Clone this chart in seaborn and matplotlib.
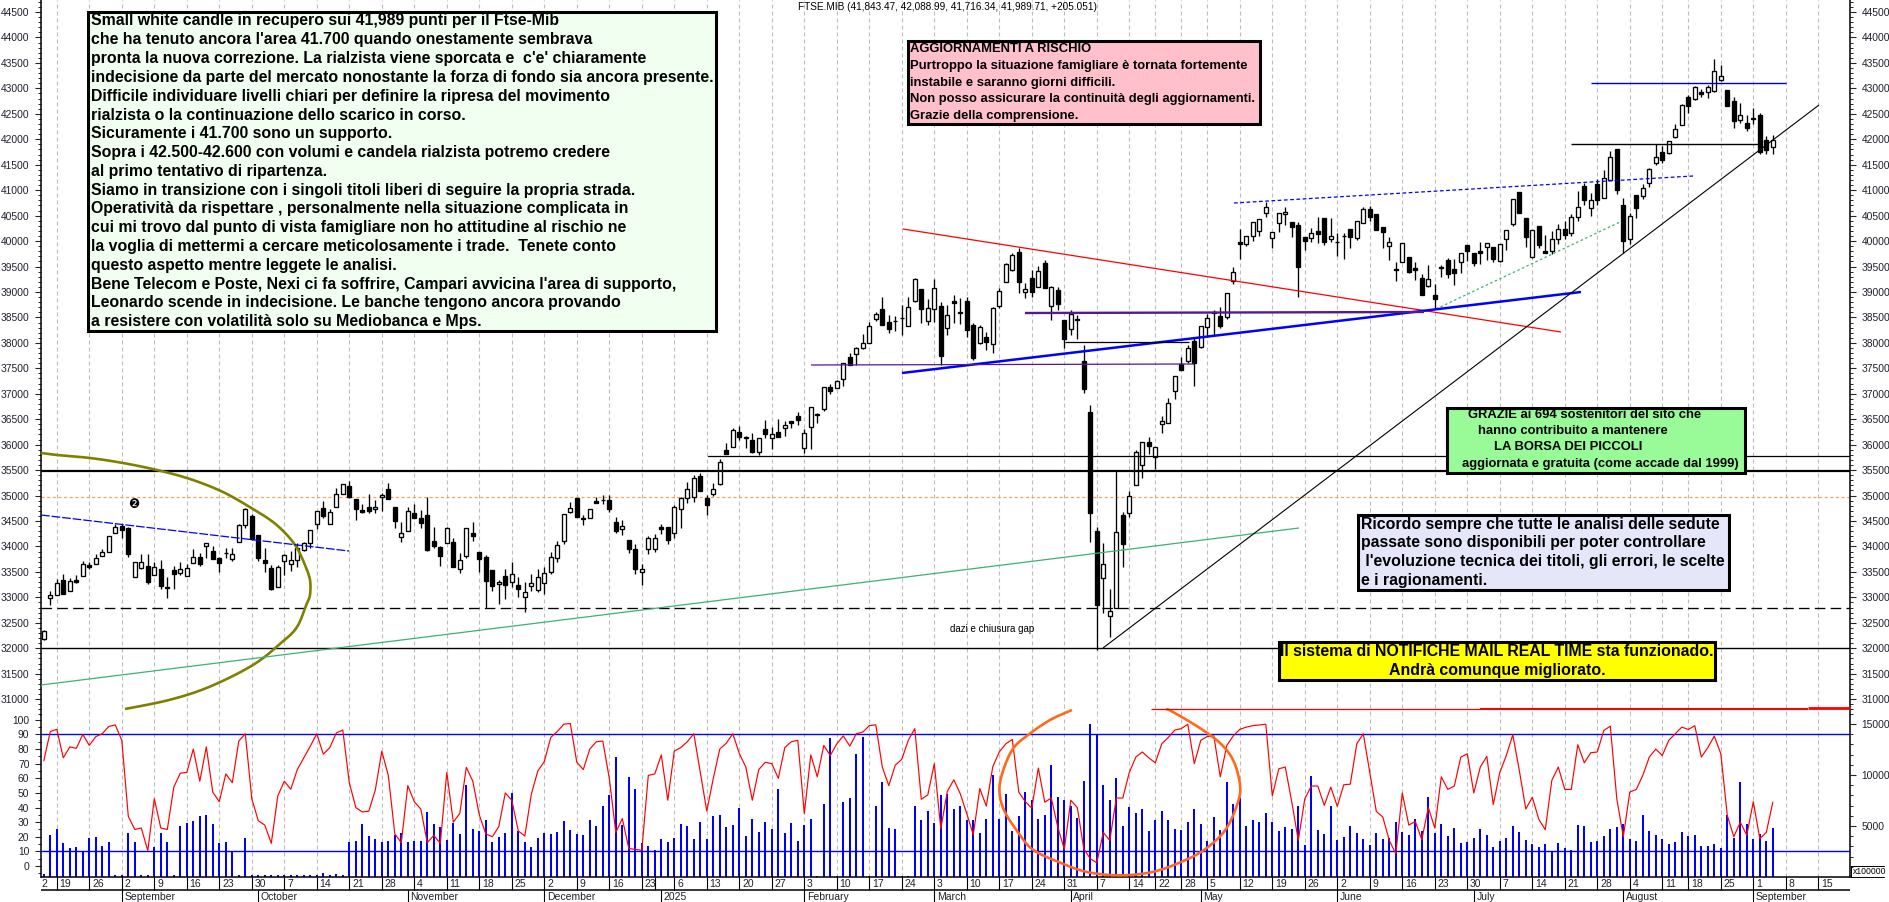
import numpy as np
import seaborn as sns
import matplotlib.pyplot as plt
from matplotlib.patches import Rectangle
from matplotlib.ticker import MultipleLocator

W, H = 1890, 902

opens = [
    32180,32990,33050,33340,33120,33340,33425,33630,33650,33820,
    33900,34265,34400,34365,33395,33585,33610,33430,33550,33195,
    33530,33485,33425,33680,33785,34000,33905,33770,33880,33755,
    34080,34415,34600,34220,33730,33570,33195,33720,33650,33735,
    33940,34075,34435,34750,34435,34785,35040,35185,34930,34710,
    34770,34730,34980,35125,34770,34195,34310,34650,34555,34615,
    34100,33990,34075,34080,33565,33820,34260,33885,33785,33540,
    33255,33420,33300,33245,33000,33220,33150,33280,33500,33780,
    34100,34670,34945,34560,34565,34890,34910,34910,34475,34340,
    34130,33950,33500,33950,33960,34375,34375,34270,34729,34945,
    34978,35383,34958,35030,35226,35894,35960,36241,36130,36091,
    35861,36300,36124,36255,36320,36458,36563,35940,36353,36589,
    36700,37126,37119,37296,37728,37774,37892,38003,38475,38658,
    38409,38435,38480,38337,38828,39058,38435,38658,38724,38285,
    38829,38580,38829,38351,38003,38121,37977,38724,39189,39431,
    39791,38992,39267,39104,39562,38724,39038,38449,38265,38455,
    37636,36634,34296,33373,32633,32784,34611,34650,35200,35593,
    36045,35750,36399,36431,37060,37584,37650,38029,37925,38318,
    38613,38528,38501,39222,39975,39942,40106,40204,40557,40053,
    40361,40525,40368,40315,40073,40053,40204,40453,40034,39988,
    40100,40237,40053,40348,40623,40531,40269,39910,39444,39582,
    39680,39464,39267,39124,38940,39464,39628,39444,39595,39922,
    39759,39805,39877,39877,39615,40034,40328,40957,40446,39693,
    40296,39811,39800,40050,40230,40150,40480,41082,40650,41121,
    40840,41200,41802,40700,40050,40905,40892,41134,41527,41756,
    41736,42038,42287,42837,42797,42922,42922,42955,43164,42961,
    42745,42378,42313,42392,42477,41979,41843,
]
highs = [
    32350,33130,33355,33460,33375,33440,33715,33700,33850,33945,
    34200,34440,34445,34390,33700,33850,33850,33700,33735,33405,
    33615,33695,33655,33950,33865,34060,34010,33800,33965,33965,
    34435,34760,34635,34220,33970,33630,33635,33850,33910,34060,
    34095,34320,34690,34895,34730,35145,35225,35290,34930,34830,
    35025,34915,35045,35245,34770,34475,34780,34835,34720,34970,
    34385,34010,34390,34165,33880,34370,34475,33885,33835,33540,
    33340,33560,33700,33400,33300,33450,33550,33600,33900,34100,
    34640,34880,34945,34620,34745,34980,35010,35010,34585,34520,
    34130,34050,33650,34200,34240,34450,34375,34815,34980,35270,
    35400,35436,35010,35240,35710,36025,36320,36366,36170,36222,
    36124,36484,36340,36497,36471,36471,36648,36300,36746,36615,
    37126,37191,37270,37610,37807,37925,38173,38416,38612,38894,
    38547,38527,38743,38907,39267,39058,38861,39254,38809,38743,
    38940,38874,38894,38383,38351,38220,38711,39071,39562,39772,
    39857,39182,39431,39510,39628,39117,39104,38449,38645,38547,
    37957,36778,34388,34060,33157,35482,34676,35095,35894,36058,
    36143,35960,36562,36909,37355,37715,37957,38121,38340,38567,
    38646,38698,38986,39483,40230,40100,40368,40426,40774,40184,
    40545,40662,40368,40381,40073,40250,40479,40453,40446,40165,
    40152,40237,40400,40675,40689,40531,40269,40086,39595,39955,
    39680,39595,39353,39530,39156,39530,39660,39647,39759,39922,
    39759,39988,39968,39877,39942,40217,40833,40970,40446,40217,
    40296,40119,40200,40330,40400,40540,40990,41134,40950,41220,
    41400,41760,41802,40850,40560,40905,41115,41430,41900,41860,
    41965,42300,42700,42860,43050,42990,43060,43570,43460,42961,
    42825,42710,42480,42610,42510,42060,42088,
]
lows = [
    32170,32855,33050,33070,33120,33290,33425,33560,33650,33820,
    33900,34265,34175,33800,33395,33560,33255,33430,33170,32985,
    33170,33445,33425,33680,33625,33780,33755,33505,33780,33720,
    34080,34370,34130,33715,33505,33145,33195,33440,33520,33600,
    33920,33965,34345,34555,34435,34785,35040,34950,34520,34655,
    34655,34655,34700,34930,34370,34095,34310,34550,34360,33905,
    33965,33625,34060,33605,33485,33765,34115,33505,32790,33130,
    32870,32970,33200,33010,32720,33130,33100,33067,33450,33700,
    34050,34650,34570,34420,34565,34850,34840,34680,34260,34225,
    33880,33450,33250,33850,33900,34250,34050,34160,34360,34860,
    34880,35095,34620,34990,35207,35816,35947,36091,35940,35842,
    35796,36124,35914,36143,36170,36320,36386,35842,35914,36431,
    36667,36995,37106,37152,37558,37558,37872,38003,38422,38350,
    38200,38239,38154,38337,38809,38396,38350,38416,37565,38154,
    38383,38370,38108,37663,37977,37859,37794,38678,39189,39418,
    38973,38874,38907,39104,39071,38449,38645,37892,38154,38069,
    37021,34093,31965,32685,32214,32784,33602,34572,35200,35351,
    35816,35521,36235,36431,36896,37466,37597,37158,37890,38121,
    38154,38298,38462,39156,39647,39903,40007,40099,40479,39857,
    40184,40315,40086,38894,39824,39988,39968,39922,39988,39706,
    39647,39870,40020,40348,40400,40217,39857,39628,39222,39582,
    39379,39235,38940,39104,38678,39300,39267,39137,39379,39615,
    39510,39550,39628,39595,39595,39824,40302,40544,39877,39660,
    39857,39772,39750,39950,40050,40100,40400,40700,40500,40700,
    40840,41200,40925,39765,39950,40450,40830,41060,41500,41527,
    41710,42020,42280,42520,42780,42830,42810,42930,43150,42660,
    42225,42310,42170,42300,41710,41710,41716,
]
closes = [
    32340,33040,33275,33070,33315,33300,33650,33600,33780,33885,
    34200,34380,34330,33850,33690,33690,33310,33590,33230,33180,
    33465,33565,33570,33785,33655,34060,33755,33680,33865,33850,
    34415,34730,34140,33780,33680,33165,33600,33825,33730,33965,
    34075,34320,34690,34590,34675,35040,35225,34970,34745,34675,
    34705,34785,35020,34930,34510,34270,34690,34550,34470,33940,
    34000,33820,34360,33605,33730,34360,34205,33760,33330,33230,
    33300,33250,33450,33160,33100,33280,33400,33480,33800,34020,
    34630,34750,34570,34530,34735,34860,34920,34735,34300,34410,
    33950,33560,33560,34170,34170,34340,34125,34780,34945,35120,
    35338,35095,34814,35135,35652,35816,36287,36156,36143,35861,
    36124,36209,36202,36156,36386,36432,36484,36222,36733,36602,
    37126,37053,37256,37597,37558,37905,37990,38337,38560,38350,
    38265,38425,38495,38710,39254,38658,38678,39070,37748,38540,
    38790,38613,38252,37709,38318,38023,38678,39025,39542,39726,
    39202,39051,38992,39412,39084,39104,38757,38069,38567,38462,
    37086,34663,32849,33648,32738,34277,34041,34997,35855,36058,
    35979,35960,36471,36824,37355,37466,37892,37610,38338,38482,
    38580,38331,38986,39385,39935,40100,40368,40426,40675,40184,
    40545,40577,40269,39497,40007,40152,40139,39988,40106,39975,
    40106,40086,40400,40623,40479,40217,40184,39975,39425,39955,
    39398,39431,38940,39248,38855,39497,39346,39379,39759,39811,
    39575,39772,39968,39641,39942,40217,40833,40544,40086,40217,
    39922,39772,40050,40230,40120,40480,40670,40800,40800,40807,
    41245,41658,41003,40000,40500,40650,41036,41416,41645,41592,
    41959,42195,42667,42653,43033,42896,43033,43335,43250,42660,
    42365,42470,42228,42425,41750,41789,41989,
]
oscillator = [
    72,92,93.5,74,81.5,80.5,90,82.5,88.5,90.5,
    95.5,96.5,86,34,25,26,10.5,46,26,25,
    54,63.5,64,80,58,81.5,50.5,44,63,57,
    85.5,90.5,46,31,28,15.5,48,58,52.5,66,
    74,82,90.5,76.5,81,91,93,57,40,37,
    37.5,52,78.5,62,22,16,55,44,39,16,
    21,15.5,64,30,36,67.5,58,35,22,20,
    27,50,45,24,20.5,49,65,71.5,88,92,
    97,97.5,71,66,80,85,85.5,60,23,32.5,
    12,11.4,10.7,62,63,76,45,78.6,81,85,
    90.5,64,37.6,60,80,84,90.5,77,67.7,45,
    66,71,70,60,81,85,86,35.8,76,61,
    82.5,75.6,83.6,89,82,90.5,91.6,96,96.6,67.7,
    55,69,73,86,94,45.6,48.7,70,25.5,51,
    59,49.4,35.8,21.4,53,41,68,78,83.6,86.6,
    50.6,44,39.6,67,43.7,46.5,26.6,11.4,45,40,
    11.8,5,2.2,23,17.5,46.5,46.5,64,74.5,78,
    74,70.6,83.6,88,93,94,97,70,86,88.6,
    89,61,82.5,89,93.5,95,96,96.5,97,48,
    66.5,67.7,43.7,17.5,46,54.7,54.7,41.5,54,40.8,
    55.6,56,83.6,90.5,64,37.4,33.5,17.5,8.4,50,
    28,30.5,18,40,26,61,52.4,54.7,74.5,76.8,
    50,67.7,75,42,64,75.6,89.8,65.4,39,47,
    32,24.8,58.5,67.7,52.4,52.4,83,70.6,77.5,78,
    92.7,95.7,46,20,50.6,52.4,62,74.5,80,75.6,
    86,90.5,95,93.4,96,74.5,81,88.9,76.8,34.6,
    20,30,21,44,18.7,23,43.7,
]
volumes = [
    260,4085,4670,3330,2840,2940,2515,3820,3920,3040,
    3400,200,160,4280,3430,160,200,2910,4310,3430,
    160,4970,5290,5490,5980,6080,5160,3300,3430,2515,
    200,3820,160,200,200,200,200,160,160,200,
    200,160,200,390,160,300,200,3430,3530,5200,
    4020,3725,3400,3530,4120,4310,3400,3530,3560,6370,
    5200,4870,3630,5330,4180,9020,4700,4540,5560,3430,
    3920,4310,8270,4480,3430,2940,3820,4310,4250,4410,
    5460,4610,4220,4120,5560,5030,6960,8040,11760,5070,
    9800,8600,3370,3040,2650,3760,3400,3820,5200,5000,
    3690,5360,3760,5980,6050,4900,5100,6730,4020,5690,
    4380,5390,4670,8630,4280,5290,3530,5130,5690,100,
    7160,13630,100,7350,7710,12060,13690,100,6930,9310,
    4800,4700,100,100,6960,5560,6440,5290,8000,8140,
    6630,7000,5560,5590,4280,5720,9970,5690,8140,4480,
    5950,8330,7550,5650,6050,10950,7810,7550,6960,5780,
    9410,14970,13990,8990,7550,9700,4970,6860,6240,6670,
    4480,5590,6470,5590,4670,4580,5390,6630,5200,3530,
    5850,4610,9280,7160,7780,5030,5590,5390,6270,5360,
    4510,4870,4670,6960,3170,9900,4580,4220,6930,3630,
    3920,5000,4310,3725,3140,4310,3690,3790,5360,4440,
    4150,5690,4480,7810,4350,5160,4020,4800,3330,3430,
    3790,4700,4080,2940,3500,3820,5000,4440,3590,3200,
    2940,3200,2515,3330,2840,2650,5130,5000,3460,3560,
    4020,4700,4900,5160,3760,3530,6080,4480,4120,3690,
    3200,3430,4410,4020,4120,3040,3040,3240,2840,6080,
    3860,9310,5200,3690,4220,3560,4800,
]

week_pos = [2,7,12,17,22,27,32,37,42,47,52,57,62,67,72,77,82,87,92,97,102,107,112,117,
            122,127,132,137,142,147,152,157,162,167,171,175,179,184,189,194,199,204,209,
            214,219,224,229,234,239,244,249,253,258,263,268,273]
week_labels = ["19","26","2","9","16","23","30","7","14","21","28","4","11","18","25","2","9","16",
               "23","6","13","20","27","3","10","17","24","3","10","17","24","31","7","14","22",
               "28","5","12","19","26","2","9","16","23","30","7","14","21","28","4","11","18",
               "25","1","8","15"]
month_pos = [12,33,56,77,95,117,137,158,178,199,220,243,263]
month_labels = ["September","October","November","December","2025","February","March","April",
                "May","June","July","August","September"]

note_lines = [
    "Small white candle in recupero sui 41,989 punti per il Ftse-Mib",
    "che ha tenuto ancora l'area 41.700 quando onestamente sembrava",
    "pronta la nuova correzione. La rialzista viene sporcata e  c'e' chiaramente",
    "indecisione da parte del mercato nonostante la forza di fondo sia ancora presente.",
    "Difficile individuare livelli chiari per definire la ripresa del movimento",
    "rialzista o la continuazione dello scarico in corso.",
    "Sicuramente i 41.700 sono un supporto.",
    "Sopra i 42.500-42.600 con volumi e candela rialzista potremo credere",
    "al primo tentativo di ripartenza.",
    "Siamo in transizione con i singoli titoli liberi di seguire la propria strada.",
    "Operatività da rispettare , personalmente nella situazione complicata in",
    "cui mi trovo dal punto di vista famigliare non ho attitudine al rischio ne",
    "la voglia di mettermi a cercare meticolosamente i trade.  Tenete conto",
    "questo aspetto mentre leggete le analisi.",
    "Bene Telecom e Poste, Nexi ci fa soffrire, Campari avvicina l'area di supporto,",
    "Leonardo scende in indecisione. Le banche tengono ancora provando",
    "a resistere con volatilità solo su Mediobanca e Mps.",
]
risk_lines = [
    "AGGIORNAMENTI A RISCHIO",
    "Purtroppo la situazione famigliare è tornata fortemente",
    "instabile e saranno giorni difficili.",
    "Non posso assicurare la continuità degli aggiornamenti.",
    "Grazie della comprensione.",
]
thanks_lines = [
    (1468, "GRAZIE ai 694 sostenitori del sito che"),
    (1478, "hanno contribuito a mantenere"),
    (1494, "LA BORSA DEI PICCOLI"),
    (1462, "aggiornata e gratuita (come accade dal 1999)"),
]
reminder_lines = [
    "Ricordo sempre che tutte le analisi delle sedute",
    "passate sono disponibili per poter controllare",
    " l'evoluzione tecnica dei titoli, gli errori, le scelte",
    "e i ragionamenti.",
]

sns.set_theme(style="white")
plt.rcParams["font.family"] = ["Liberation Sans", "DejaVu Sans"]

LEFT, RIGHT = 41, 1850
STEP = 6.5
xlim = ((LEFT - 43.8) / STEP, (RIGHT - 43.8) / STEP)
tick_color = "#20202c"
tick_size = 7.4
grid_color = "#bdbdbd"


def panel(top, bottom):
    return [LEFT / W, 1 - bottom / H, (RIGHT - LEFT) / W, (bottom - top) / H]


fig = plt.figure(figsize=(W / 100, H / 100), dpi=100, facecolor="white")

# price panel
ax = fig.add_axes(panel(0, 715))
days = np.arange(len(closes))
opens_a, closes_a = np.array(opens), np.array(closes)
rising = closes_a >= opens_a

for w in week_pos:
    ax.axvline(w, color=grid_color, lw=0.8, ls=(0, (3.6, 2.7)), zorder=1)

ax.vlines(days, lows, highs, color="black", lw=0.95, zorder=3)
body_h = np.abs(closes_a - opens_a)
body_bottom = np.minimum(opens_a, closes_a)
ax.bar(days[rising], body_h[rising], bottom=body_bottom[rising], width=0.6,
       facecolor="white", edgecolor="black", linewidth=0.95, zorder=4)
ax.bar(days[~rising], body_h[~rising], bottom=body_bottom[~rising], width=0.6,
       facecolor="black", edgecolor="black", linewidth=0.95, zorder=4)

ax.axhline(35482, color="black", lw=1.6, zorder=5)
ax.axhline(35783, color="black", lw=0.9, xmin=(102.2 - xlim[0]) / (xlim[1] - xlim[0]), zorder=5)
ax.axhline(34968, color="#f4a460", lw=0.9, ls=(0, (2.5, 2)), zorder=2)
ax.axhline(32783, color="black", lw=0.95, ls=(0, (8, 4)), zorder=2)
ax.axhline(32000, color="black", lw=1.0, zorder=5)

ax.set_xlim(xlim)
ax.set_ylim(30689, 44736)
ax.yaxis.set_major_locator(MultipleLocator(500))
ax.yaxis.set_minor_locator(MultipleLocator(100))
ax.set_yticks([t for t in range(31000, 44501, 500)])
ax.tick_params(axis="y", which="major", left=True, right=True, labelleft=True, labelright=True,
               length=4.3, width=0.8, labelsize=tick_size, labelcolor=tick_color, pad=4)
ax.tick_params(axis="y", which="minor", left=True, right=True, length=2.2, width=0.7)
ax.set_xticks([])
for side in ["top", "bottom"]:
    ax.spines[side].set_visible(False)
for side in ["left", "right"]:
    ax.spines[side].set_color("black")
    ax.spines[side].set_linewidth(1.1)
ax.grid(False)

# volume, right hand scale
ax_vol = fig.add_axes(panel(715, 877))
for w in week_pos:
    ax_vol.axvline(w, color=grid_color, lw=0.8, ls=(0, (3.6, 2.7)), zorder=0.5)
sns.barplot(x=days, y=volumes, native_scale=True, color="#0000ff", saturation=1,
            width=0.34, linewidth=0, zorder=2, ax=ax_vol)
ax_vol.set_xlim(xlim)
ax_vol.set_ylim(0, 15880)
ax_vol.set_xlabel("")
ax_vol.set_ylabel("")
ax_vol.set_xticks([])
ax_vol.yaxis.tick_right()
ax_vol.set_yticks([5000, 10000, 15000])
ax_vol.yaxis.set_minor_locator(MultipleLocator(1000))
ax_vol.tick_params(axis="y", which="major", right=True, left=False, length=4.3, width=0.8,
                   labelsize=tick_size, labelcolor=tick_color, pad=4)
ax_vol.tick_params(axis="y", which="minor", right=True, left=False, length=2.2, width=0.7)
ax_vol.grid(False)
for side in ["top", "bottom", "left"]:
    ax_vol.spines[side].set_visible(False)
ax_vol.spines["right"].set_color("black")
ax_vol.spines["right"].set_linewidth(1.1)

# oscillator, left hand scale
ax_osc = fig.add_axes(panel(715, 877))
ax_osc.patch.set_alpha(0)
ax_osc.axhline(90, color="#0000ff", lw=1.0, zorder=3)
ax_osc.axhline(10, color="#0000ff", lw=1.0, zorder=3)
sns.lineplot(x=days, y=oscillator, color="#ff0000", lw=0.85, errorbar=None, estimator=None,
             ax=ax_osc, zorder=4)
ax_osc.set_xlim(xlim)
ax_osc.set_ylim(-7.5, 103.3)
ax_osc.set_xlabel("")
ax_osc.set_ylabel("")
ax_osc.set_xticks([])
ax_osc.set_yticks(range(0, 101, 10))
ax_osc.yaxis.set_minor_locator(MultipleLocator(5))
ax_osc.tick_params(axis="y", which="major", left=True, right=False, length=4.3, width=0.8,
                   labelsize=tick_size, labelcolor=tick_color, pad=4)
ax_osc.tick_params(axis="y", which="minor", left=True, right=False, length=2.2, width=0.7)
ax_osc.grid(False)
for side in ["top", "bottom", "right"]:
    ax_osc.spines[side].set_visible(False)
ax_osc.spines["left"].set_color("black")
ax_osc.spines["left"].set_linewidth(1.1)

# date rows under the panels
ax_date = fig.add_axes(panel(877, H))
ax_date.set_xlim(xlim)
ax_date.set_ylim(25, 0)
ax_date.axis("off")
ax_date.axhline(0, color="black", lw=1.1, clip_on=False)
ax_date.axhline(13, color="black", lw=1.1)
ax_date.vlines(week_pos + [94], 0, 13, color="black", lw=0.8)
ax_date.vlines(month_pos, 13, 25, color="black", lw=0.8)
for pos, lab in zip(week_pos, week_labels):
    ax_date.text(pos + 0.42, 6.8, lab, fontsize=7.5, color=tick_color, va="center", ha="left")
ax_date.text(xlim[0] + 0.1, 6.8, "2", fontsize=7.5, color=tick_color, va="center", ha="left")
for pos, lab in zip(month_pos, month_labels):
    ax_date.text(pos + 0.4, 19.6, lab, fontsize=7.5, color=tick_color, va="center", ha="left")

# hand drawn lines and notes go on an overlay in picture coordinates
ov = fig.add_axes([0, 0, 1, 1])
ov.set_xlim(0, W)
ov.set_ylim(H, 0)
ov.axis("off")


def draw(points, color, lw, ls="-", z=2):
    xs, ys = zip(*points)
    ov.plot(xs, ys, color=color, lw=lw, ls=ls, zorder=z, solid_capstyle="butt", dash_capstyle="butt")


# the two freehand arcs, rounded off with a catmull-rom pass
def smooth(points, n=12):
    p = np.array([points[0]] + points + [points[-1]], dtype=float)
    out = []
    for k in range(1, len(p) - 2):
        for t in np.linspace(0, 1, n, endpoint=False):
            out.append(0.5 * (2 * p[k] + (p[k + 1] - p[k - 1]) * t
                              + (2 * p[k - 1] - 5 * p[k] + 4 * p[k + 1] - p[k + 2]) * t ** 2
                              + (3 * p[k] - p[k - 1] - 3 * p[k + 1] + p[k + 2]) * t ** 3))
    out.append(p[-2])
    return out


arc_olive = [(41,453),(57,455),(90,458),(123,463),(157,470),(190,479),(223,492),(253,509),(273,522),
             (287,535),(297,548),(305,565),(310,580),(310,595),(307,603),(297,627),(281,643),
             (253,665),(209,687),(169,700),(125,709)]
arc_orange = [(1072,710),(1050,720),(1028,735),(1013.5,748),(1004,768),(999.4,789),(1003.5,809),
              (1015.7,829),(1032,849),(1058.6,862),(1087,872),(1120,875.3),(1152.4,872),(1181,862),
              (1205.5,849),(1226,829),(1238,802),(1240,785),(1234,762),(1222,745),(1201.4,729),
              (1173,712),(1166,709)]
draw(smooth(arc_olive), "#808000", 1.9)
draw(smooth(arc_orange), "#ff6a1a", 1.9)
draw([(41,685),(1299,528)], "#3cb371", 0.9)
draw([(41,515),(349,551)], "#0000ff", 0.9, (0, (7, 1.5)))
draw([(1234,203),(1693,176)], "#0000ff", 0.9, (0, (3, 2)))
draw([(1436,309),(1620,222)], "#3cb371", 0.9, (0, (2, 2)))
draw([(903,229),(1561,332)], "#ff0000", 0.9)
draw([(902,373),(1581,292)], "#0000ff", 1.8)
draw([(1025,313),(1424,312)], "#551a8b", 1.7)
draw([(811,365),(1194,364)], "#551a8b", 0.9)
draw([(1065,342),(1189,342)], "black", 0.9)
draw([(1103,648),(1819,105)], "black", 0.8)
draw([(1591,83),(1786,83)], "#0000c8", 1.0)
draw([(1571,144),(1761,144)], "black", 1.0)
draw([(1151,709),(1480,709)], "#ff0000", 0.9)
draw([(1480,708.5),(1808,708.5)], "#ff0000", 1.5)
draw([(1808,708),(RIGHT,708)], "#ff0000", 2.0)


def box(x0, y0, x1, y1, color, lw=2.2):
    ov.add_patch(Rectangle((x0, y0), x1 - x0, y1 - y0, facecolor=color, edgecolor="black",
                           linewidth=lw, zorder=6))


def say(x, y, s, size, ha="left", weight="bold"):
    ov.text(x, y, s, fontsize=size, fontweight=weight, color="black", ha=ha, va="center", zorder=7)


box(88, 12, 716, 331, "#f0fff0")
for n, line in enumerate(note_lines):
    say(91, 21 + n * 18.8, line, 11.45)

box(908, 41, 1260, 124, "#ffc0cb")
for n, line in enumerate(risk_lines):
    say(910, 49 + n * 16.8, line, 9.4)

box(1447, 408, 1745, 473, "#98fb98")
for n, (x, line) in enumerate(thanks_lines):
    say(x, 415 + n * 16.2, line, 9.35)

box(1358, 515, 1729, 590, "#e6e6fa")
for n, line in enumerate(reminder_lines):
    say(1361, 524 + n * 18.8, line, 11.4)

box(1279, 642, 1715, 680, "#ffff00")
say(1497, 652, "Il sistema di NOTIFICHE MAIL REAL TIME sta funzionado.", 11.45, ha="center")
say(1497, 670, "Andrà comunque migliorato.", 11.45, ha="center")

say(798, 7, "FTSE.MIB (41,843.47, 42,088.99, 41,716.34, 41,989.71, +205.051)", 7.2, weight="normal")
say(950, 629, "dazi e chiusura gap", 7.0, weight="normal")
ov.text(134, 504, "❷", fontsize=9, color="black", ha="center", va="center", zorder=5,
        family=["DejaVu Sans"])

# multiplier tag of the volume scale
ov.plot([1851, 1851, 1884], [877, 866, 866], color="black", lw=0.7, zorder=3)
ov.plot([1851, 1884], [877, 877], color="black", lw=0.7, zorder=3)
say(1853, 872, "x100000", 6.2, weight="normal")

fig.savefig("out.png", dpi=100)
